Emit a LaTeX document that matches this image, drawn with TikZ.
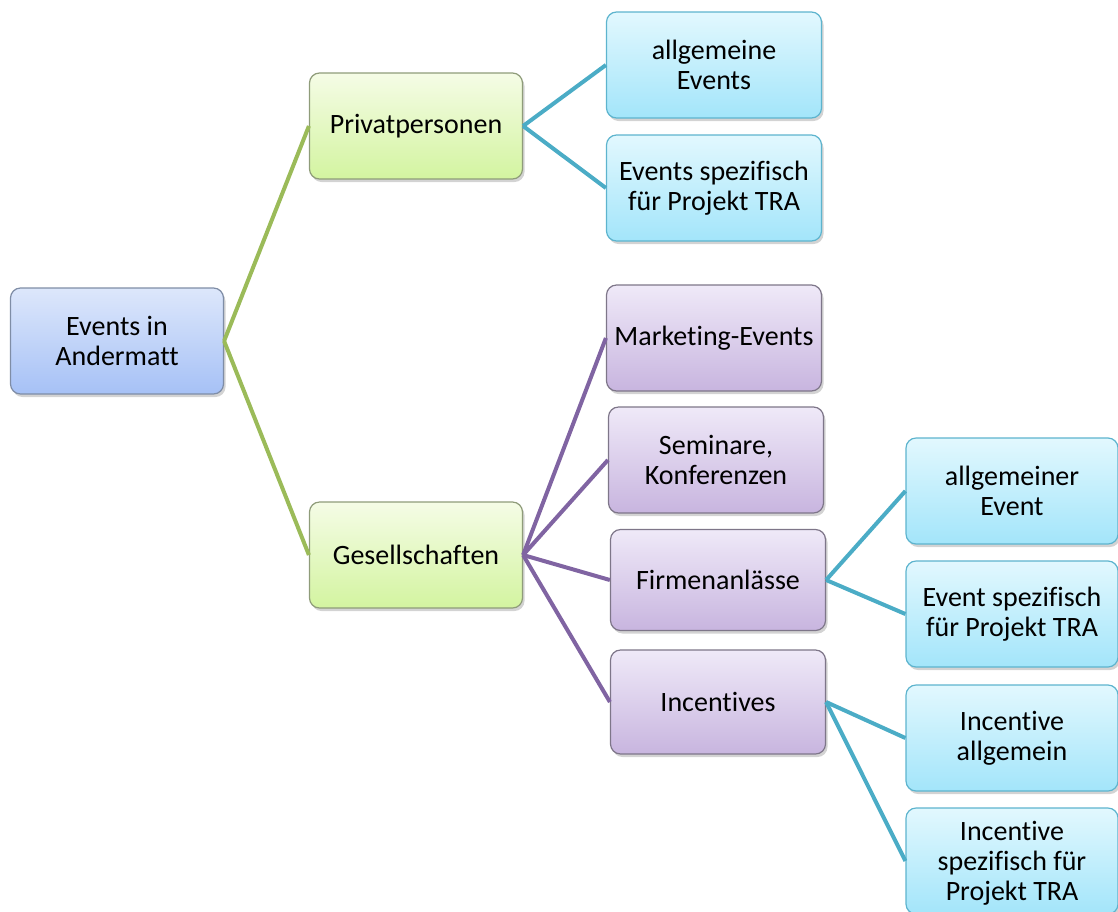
\documentclass[tikz,border=0pt]{standalone}
\usepackage{fontspec}
\setmainfont{Carlito}[Ligatures=NoCommon]
\usetikzlibrary{shadows}

\definecolor{rootTop}{HTML}{DDE7FB}
\definecolor{rootBot}{HTML}{A6C1F6}
\definecolor{rootEdge}{HTML}{7F8DA6}
\definecolor{grnTop}{HTML}{F5FCE6}
\definecolor{grnBot}{HTML}{D3F4A0}
\definecolor{grnEdge}{HTML}{8F9C7A}
\definecolor{cyaTop}{HTML}{E2F8FE}
\definecolor{cyaBot}{HTML}{A3E5FA}
\definecolor{cyaEdge}{HTML}{5DB4CE}
\definecolor{purTop}{HTML}{EFE9F8}
\definecolor{purBot}{HTML}{C8B5DF}
\definecolor{purEdge}{HTML}{7E7689}
\definecolor{grnLine}{HTML}{9BBB59}
\definecolor{cyaLine}{HTML}{4BACC6}
\definecolor{purLine}{HTML}{8064A2}

\begin{document}
\begin{tikzpicture}[x=1pt,y=-1pt,
  box/.style={rounded corners=10pt,minimum width=213pt,minimum height=106pt,
    align=center,font=\fontsize{28}{30}\selectfont,line width=1.2pt,inner xsep=2pt,
    drop shadow={opacity=0.35,shadow xshift=2pt,shadow yshift=-3pt}},
  rootbox/.style={box,draw=rootEdge,top color=rootTop,bottom color=rootBot},
  grnbox/.style={box,draw=grnEdge,top color=grnTop,bottom color=grnBot},
  cyabox/.style={box,draw=cyaEdge,top color=cyaTop,bottom color=cyaBot},
  purbox/.style={box,draw=purEdge,top color=purTop,bottom color=purBot},
  link/.style={line width=4pt}]
  \useasboundingbox (0,0) rectangle (1118,911);

  % Root
  \node[rootbox] (root) at (117,341) {Events in\\Andermatt};

  % First level
  \node[grnbox] (priv) at (416,126) {Privatpersonen};
  \node[grnbox] (ges) at (416,555) {Gesellschaften};

  % Privatpersonen children
  \node[cyabox,minimum width=215pt] (allgEv) at (714,65) {allgemeine\\Events};
  \node[cyabox,minimum width=215pt] (spezEv) at (714,188) {Events spezifisch\\für Projekt TRA};

  % Gesellschaften children
  \node[purbox,minimum width=215pt] (mark) at (714,338) {Marketing-Events};
  \node[purbox,minimum width=215pt] (sem) at (716,460) {Seminare,\\Konferenzen};
  \node[purbox,minimum width=215pt,minimum height=101pt] (firm) at (718,580) {Firmenanlässe};
  \node[purbox,minimum width=215pt,minimum height=104pt] (inc) at (718,702) {Incentives};

  % Third level
  \node[cyabox,minimum width=212pt] (allgFirm) at (1012,491) {allgemeiner\\Event};
  \node[cyabox,minimum width=212pt] (spezFirm) at (1012,614) {Event spezifisch\\für Projekt TRA};
  \node[cyabox,minimum width=212pt] (allgInc) at (1012,738) {Incentive\\allgemein};
  \node[cyabox,minimum width=212pt,text depth=0pt] (spezInc) at (1012,861) {Incentive\\spezifisch für\\Projekt TRA};

  % Connectors
  \foreach \c in {priv,ges}{
    \draw[link,grnLine] (root.east) -- (\c.west);
  }
  \foreach \c in {allgEv,spezEv}{
    \draw[link,cyaLine] (priv.east) -- (\c.west);
  }
  \foreach \c in {mark,sem,firm,inc}{
    \draw[link,purLine] (ges.east) -- (\c.west);
  }
  \foreach \c in {allgFirm,spezFirm}{
    \draw[link,cyaLine] (firm.east) -- (\c.west);
  }
  \foreach \c in {allgInc,spezInc}{
    \draw[link,cyaLine] (inc.east) -- (\c.west);
  }
\end{tikzpicture}
\end{document}
